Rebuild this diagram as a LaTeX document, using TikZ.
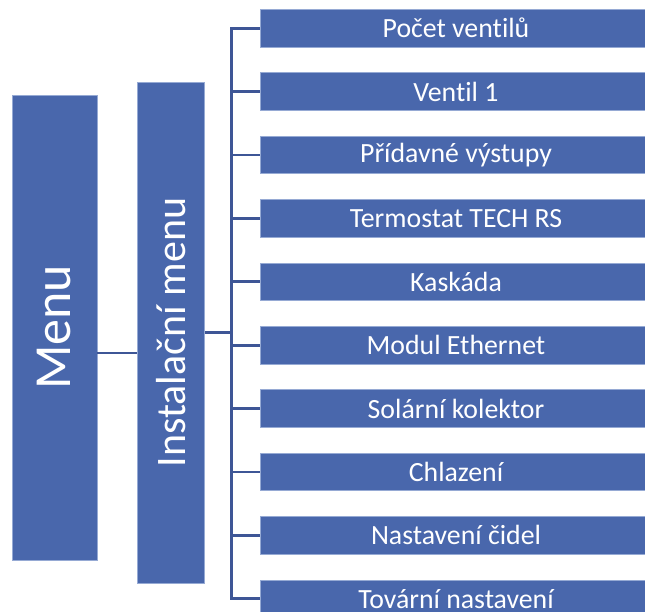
\documentclass[tikz,border=0pt]{standalone}
\usepackage{fontspec}
\setmainfont{Carlito}[Ligatures=NoCommon]
\usepackage{xcolor}
\usepackage{tikz}
\usetikzlibrary{positioning}
\definecolor{boxblue}{RGB}{73,103,172}
\definecolor{boxedge}{RGB}{150,170,212}
\definecolor{linkblue}{RGB}{62,86,150}

\begin{document}
\begin{tikzpicture}[x=1pt, y=-1pt, node distance=63.4pt]
\tikzstyle{item} = [rectangle, draw=boxedge, line width=0.8pt, fill=boxblue, text=white, minimum width=392pt, minimum height=37.5pt, inner sep=0pt, font=\fontsize{27.8}{30}\selectfont]
\tikzstyle{side} = [rectangle, draw=boxedge, line width=0.8pt, fill=boxblue, text=white, rotate=90, inner sep=0pt]
\tikzstyle{link} = [draw=linkblue, line width=2.7pt]

\useasboundingbox (0,0) rectangle (645,611);

\node [side, minimum width=465pt, minimum height=85pt, font=\fontsize{52}{60}\selectfont] (menu) at (54.5,327.5) {Menu};
\node [side, minimum width=501pt, minimum height=67.5pt, font=\fontsize{42}{48}\selectfont] (inst) at (171,332.5) {Instalační menu};

\node [item] (i1) at (456,28.2) {Počet ventilů};
\node [item, below of=i1] (i2) {Ventil 1};
\node [item, below of=i2] (i3) {Přídavné výstupy};
\node [item, below of=i3] (i4) {Termostat TECH RS};
\node [item, below of=i4] (i5) {Kaskáda};
\node [item, below of=i5] (i6) {Modul Ethernet};
\node [item, below of=i6] (i7) {Solární kolektor};
\node [item, below of=i7] (i8) {Chlazení};
\node [item, below of=i8] (i9) {Nastavení čidel};
\node [item, below of=i9] (i10) {Tovární nastavení};

\coordinate (bus) at ([xshift=-28pt]i1.west);
\path [link] (i1.west) -- (bus) |- (i10.west);
\foreach \i in {2,...,9}
  \path [link] (i\i.west) -- (i\i.west -| bus);
\path [link] (inst.south) -- (inst.south -| bus);
\path [link] ([yshift=-25.5pt]menu.south) -- ([yshift=-20.5pt]inst.north);
\end{tikzpicture}
\end{document}
